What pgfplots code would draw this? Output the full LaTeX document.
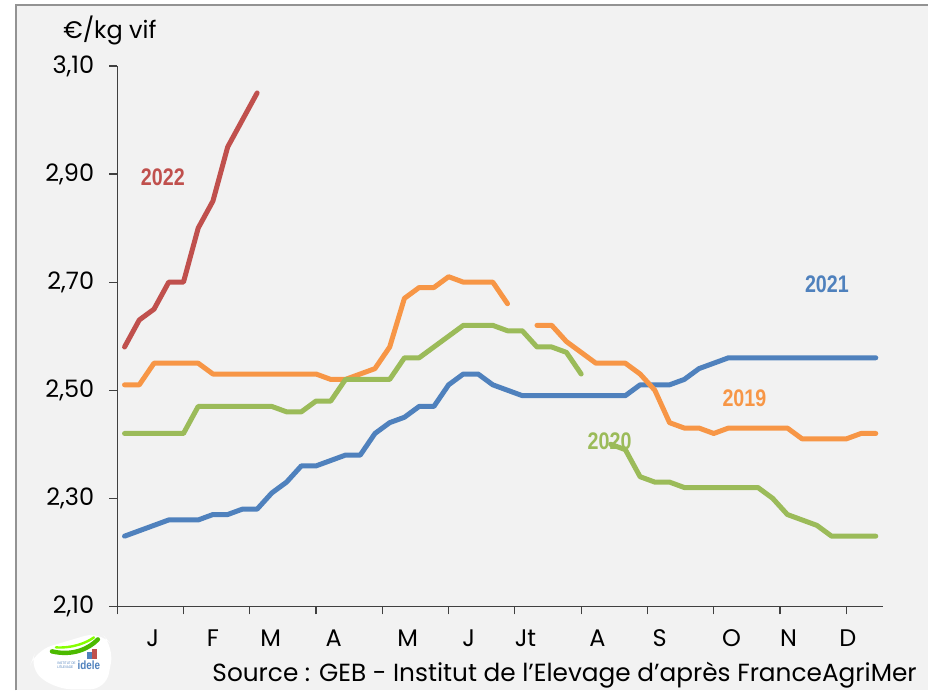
\documentclass[border=0pt]{standalone}
\usepackage{fontspec}
\setmainfont{Poppins}
\newfontfamily\narrowbold[FakeStretch=0.82]{Liberation Sans}
\usepackage{pgfplots}
\pgfplotsset{compat=1.18}
\definecolor{c19}{HTML}{F79646}
\definecolor{c20}{HTML}{9BBB59}
\definecolor{c21}{HTML}{4F81BD}
\definecolor{c22}{HTML}{C0504D}
\definecolor{bgc}{HTML}{F2F2F2}
\definecolor{axc}{HTML}{404040}
\begin{document}
\begin{tikzpicture}[x=1pt,y=1pt]
% background / frame (1 px = 0.5 pt; axis box lower-left at origin)
\fill[white] (-58.65,303.5) rectangle (405.85,-42);
\fill[bgc] (-50.65,301) rectangle (405.85,-42);
\draw[gray!85, line width=0.9pt] (-50.65,-42) -- (-50.65,301) -- (405.85,301);
\begin{axis}[
  at={(0,0)}, anchor=south west,
  scale only axis, width=383.35pt, height=270.5pt,
  xmin=0.5, xmax=52.5, ymin=2.10, ymax=3.10,
  axis lines=left,
  axis line style={-, draw=axc, line width=0.6pt},
  tick style={draw=axc, line width=0.6pt},
  tick align=outside, major tick length=4pt,
  ytick={2.1,2.3,2.5,2.7,2.9,3.1},
  yticklabel style={/pgf/number format/fixed, /pgf/number format/fixed zerofill,
    /pgf/number format/precision=2, /pgf/number format/use comma,
    /pgf/number format/assume math mode=true, xshift=-4pt},
  xtick={0.5,5,9.5,14,18.5,23,27.5,32,36.5,41,45.5,50},
  xticklabels={},
  extra x ticks={2.92,7.0,10.93,15.2,20.22,24.36,28.22,33.11,37.32,42.2,46.07,50.1},
  extra x tick labels={J,F,M,A,M,J,Jt,A,S,O,N,D},
  extra x tick style={major tick length=0pt, tick style={draw=none},
    xticklabel style={yshift=-8.3pt}},
  ticklabel style={font=\fontsize{12}{14}\selectfont, text=black},
  clip=false,
  every axis plot/.append style={line width=2.5pt, line join=round, line cap=round, mark=none},
]
% 2021
\addplot[c21] coordinates {
(1,2.23)(2,2.24)(3,2.25)(4,2.26)(5,2.26)(6,2.26)(7,2.27)(8,2.27)(9,2.28)(10,2.28)
(11,2.31)(12,2.33)(13,2.36)(14,2.36)(15,2.37)(16,2.38)(17,2.38)(18,2.42)(19,2.44)(20,2.45)
(21,2.47)(22,2.47)(23,2.51)(24,2.53)(25,2.53)(26,2.51)(27,2.50)(28,2.49)(29,2.49)(30,2.49)
(31,2.49)(32,2.49)(33,2.49)(34,2.49)(35,2.49)(36,2.51)(37,2.51)(38,2.51)(39,2.52)(40,2.54)
(41,2.55)(42,2.56)(43,2.56)(44,2.56)(45,2.56)(46,2.56)(47,2.56)(48,2.56)(49,2.56)(50,2.56)
(51,2.56)(52,2.56)};
% 2019
\addplot[c19] coordinates {
(1,2.51)(2,2.51)(3,2.55)(4,2.55)(5,2.55)(6,2.55)(7,2.53)(8,2.53)(9,2.53)(10,2.53)
(11,2.53)(12,2.53)(13,2.53)(14,2.53)(15,2.52)(16,2.52)(17,2.53)(18,2.54)(19,2.58)(20,2.67)
(21,2.69)(22,2.69)(23,2.71)(24,2.70)(25,2.70)(26,2.70)(27,2.66)};
\addplot[c19] coordinates {
(29,2.62)(30,2.62)(31,2.59)(32,2.57)(33,2.55)(34,2.55)(35,2.55)(36,2.53)(37,2.50)(38,2.44)
(39,2.43)(40,2.43)(41,2.42)(42,2.43)(43,2.43)(44,2.43)(45,2.43)(46,2.43)(47,2.41)(48,2.41)
(49,2.41)(50,2.41)(51,2.42)(52,2.42)};
% 2020
\addplot[c20] coordinates {
(1,2.42)(2,2.42)(3,2.42)(4,2.42)(5,2.42)(6,2.47)(7,2.47)(8,2.47)(9,2.47)(10,2.47)
(11,2.47)(12,2.46)(13,2.46)(14,2.48)(15,2.48)(16,2.52)(17,2.52)(18,2.52)(19,2.52)(20,2.56)
(21,2.56)(22,2.58)(23,2.60)(24,2.62)(25,2.62)(26,2.62)(27,2.61)(28,2.61)(29,2.58)(30,2.58)
(31,2.57)(32,2.53)};
\addplot[c20] coordinates {
(34,2.40)(35,2.39)(36,2.34)(37,2.33)(38,2.33)(39,2.32)(40,2.32)(41,2.32)(42,2.32)(43,2.32)
(44,2.32)(45,2.30)(46,2.27)(47,2.26)(48,2.25)(49,2.23)(50,2.23)(51,2.23)(52,2.23)};
% 2022
\addplot[c22] coordinates {
(1,2.58)(2,2.63)(3,2.65)(4,2.70)(5,2.70)(6,2.80)(7,2.85)(8,2.95)(9,3.00)(10,3.05)};
\node[text=c22, font=\narrowbold\bfseries\fontsize{12}{14}\selectfont] at (axis cs:3.6,2.894) {2022};
\node[text=c21, font=\narrowbold\bfseries\fontsize{12}{14}\selectfont] at (axis cs:48.68,2.697) {2021};
\node[text=c19, font=\narrowbold\bfseries\fontsize{12}{14}\selectfont] at (axis cs:43.08,2.4845) {2019};
\node[text=c20, font=\narrowbold\bfseries\fontsize{12}{14}\selectfont] at (axis cs:33.93,2.4056) {2020};
\end{axis}
% unit label
\node[anchor=base, font=\fontsize{12}{14}\selectfont] at (-3.65,284) {€/kg vif};
% source
\node[anchor=base east, font=\fontsize{12.4}{14}\selectfont, inner sep=0pt] at (400.35,-37.35) {Source : GEB - Institut de l’Elevage d’après FranceAgriMer};
% logo
\fill[white, rounded corners=8pt] (-8.65,-12.5) -- (-1.65,-20.5) -- (-5.65,-41.5) -- (-30.65,-41.5) -- (-44.15,-31) -- (-40.65,-22) -- cycle;
\draw[green!55!black!60!lime, line width=2.2pt, line cap=round] (-32.65,-22.5) .. controls (-22,-25) and (-14,-21) .. (-9.65,-16.5);
\draw[lime!70!green, line width=1.2pt, line cap=round] (-30.65,-20.5) .. controls (-22,-21) and (-15,-18) .. (-11.65,-15.5);
\fill[c22] (-12.5,-21.5) rectangle (-10.2,-26.5);
\fill[c21] (-15,-23) rectangle (-12.8,-26.5);
\node[anchor=west, text=c21, font=\narrowbold\bfseries\fontsize{6}{6}\selectfont, inner sep=0pt] at (-20,-29.5) {idele};
\node[anchor=east, text=c21, font=\narrowbold\fontsize{1.8}{2}\selectfont, inner sep=0pt, align=left] at (-20.6,-29.5) {INSTITUT DE\\L’ÉLEVAGE};
\end{tikzpicture}
\end{document}
